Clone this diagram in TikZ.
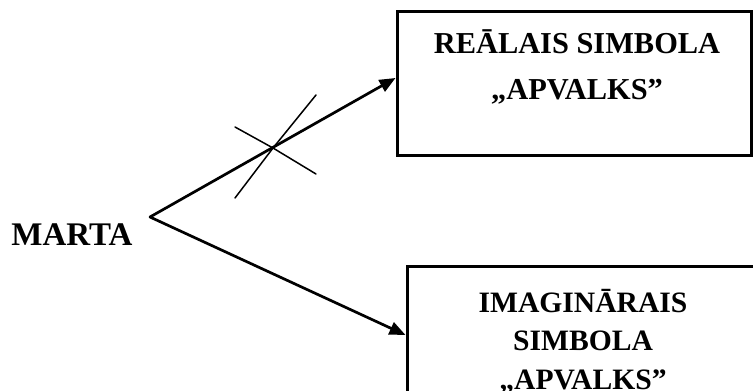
\documentclass[tikz,border=0pt]{standalone}
\usepackage{fontspec}
\setmainfont{Liberation Serif}
\usetikzlibrary{arrows.meta}

\begin{document}
\begin{tikzpicture}[
            x=0.5pt, y=-0.5pt,
            >={Triangle[length=8pt, width=6.5pt]},
            line cap=round,
            frame/.style={draw, line width=1.5pt, rectangle, inner sep=0pt},
            link/.style={->, line width=1.35pt},
            strike/.style={line width=0.75pt},
            caption/.style={font=\bfseries\fontsize{15.2}{23}\selectfont, inner sep=0pt, align=center},
        ]
        \clip (0,0) rectangle (753,390);

        \node[caption, anchor=base, font=\bfseries\fontsize{16.5}{18}\selectfont] (marta) at (72,245) {MARTA};
        \coordinate (fork) at (150,217);

        \node[frame, minimum width=177pt, minimum height=71.5pt] (realbox) at (574,83.5) {};
        \node[frame, minimum width=177pt, minimum height=69pt] (imagbox) at (584,335) {};

        \node[caption, anchor=base] (realtext) at (577,99) {RE\={A}LAIS SIMBOLA\\„APVALKS”};
        \node[caption, anchor=base, font=\bfseries\fontsize{14.8}{19.2}\selectfont] (imagtext) at (583,389)
            {IMAGIN\={A}RAIS\\SIMBOLA\\„APVALKS”};

        \draw[link] (fork) -- ([yshift=2.75pt]realbox.west);
        \draw[link] (fork) -- (imagbox.west);

        \coordinate (cut) at (273,148);
        \draw[strike] (235,127) -- (cut) -- (316,174);
        \draw[strike] (235,198) -- (cut) -- (316,95);
        \end{tikzpicture}
\end{document}
